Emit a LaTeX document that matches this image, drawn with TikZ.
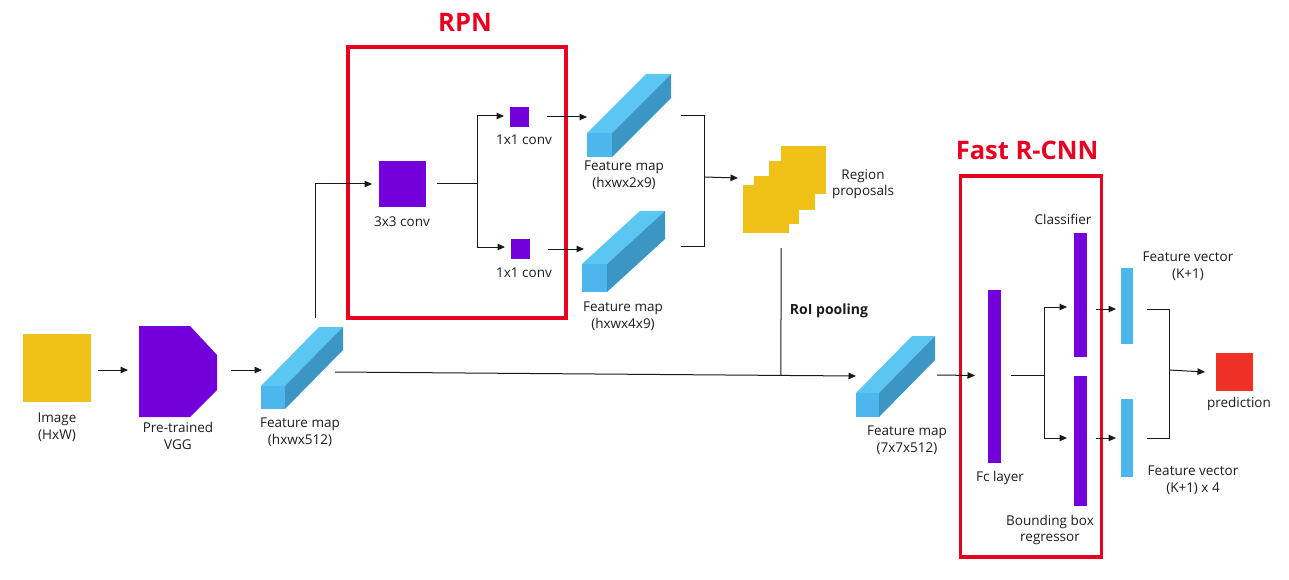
\documentclass[tikz,border=0pt]{standalone}
\usepackage{fontspec}
\setmainfont{Open Sans}
\usetikzlibrary{arrows.meta,calc}
\definecolor{yel}{RGB}{240,193,23}
\definecolor{pur}{RGB}{115,0,218}
\definecolor{bfront}{RGB}{77,182,236}
\definecolor{btop}{RGB}{92,198,242}
\definecolor{bside}{RGB}{60,150,196}
\definecolor{boxred}{RGB}{232,0,32}
\definecolor{predred}{RGB}{238,49,36}
\definecolor{wirecol}{RGB}{25,25,25}
\definecolor{txt}{RGB}{28,28,28}
\newcommand\fmapbox[7]{%
  \node[fill=bfront, inner sep=0pt, outer sep=0pt, minimum width=#4pt, minimum height=#5pt, anchor=north west] (#1) at (#2,#3) {};
  \fill[btop] (#1.north west) -- ++(#6,-#7) -- ++(#4,0) -- (#1.north east) -- cycle;
  \fill[bside] (#1.north east) -- ++(#6,-#7) -- ++(0,#5) -- (#1.south east) -- cycle;
}
\begin{document}
\begin{tikzpicture}[x=1pt,y=-1pt,
  wire/.style={draw=wirecol, line width=1pt},
  arr/.style={wire, -{Triangle[length=7.5pt,width=6.5pt]}},
  lbl/.style={font=\fontsize{13.5}{16.5}\selectfont, align=center, inner sep=0pt, text=txt},
  blbl/.style={font=\bfseries\fontsize{14}{16}\selectfont, inner sep=0pt, text=txt},
  title/.style={font=\bfseries\fontsize{25.5}{28}\selectfont, inner sep=0pt, text=boxred},
  blk/.style={inner sep=0pt, outer sep=0pt, anchor=north west},
  redbox/.style={draw=boxred, line width=3.5pt}]
\useasboundingbox (0,0) rectangle (1289,580);

% ---------- left part ----------
\node[blk, fill=yel, minimum width=68pt, minimum height=68pt] (img) at (23,334) {};
\node[lbl] (imgl) at (57,427) {Image\\(HxW)};

\node[blk, minimum width=78pt, minimum height=91pt] (vgg) at (139,326) {};
\fill[pur] (vgg.north west) -- ++(51,0) -- ++(27,29) -- ++(0,35) -- ++(-27,27) -- (vgg.south west) -- cycle;
\node[lbl] (vggl) at (178,436) {Pre-trained\\VGG};

\fmapbox{fm1}{261}{386}{24}{23}{58}{59}
\node[lbl] (fm1l) at (300,432) {Feature map\\(hxwx512)};

\draw[arr] ($(img.east)+(7,2)$) -- ($(vgg.west)+(-11,-1.5)$);
\draw[arr] ($(vgg.east)+(14,-1.5)$) -- ($(fm1.north west)+(1,-16)$);

% ---------- RPN ----------
\draw[redbox] (348,47) rectangle (566,318);
\node[title] (rpnt) at (465,22) {RPN};

\node[blk, fill=pur, minimum width=47pt, minimum height=46pt] (conv3) at (379,161) {};
\node[lbl] (conv3l) at (402,222) {3x3 conv};
\node[blk, fill=pur, minimum width=19pt, minimum height=20pt] (conv1a) at (510,107) {};
\node[lbl] (conv1al) at (524,140) {1x1 conv};
\node[blk, fill=pur, minimum width=19pt, minimum height=20pt] (conv1b) at (511,239) {};
\node[lbl] (conv1bl) at (524,273) {1x1 conv};

\draw[arr] ($(fm1.north west)+(54,-68)$) |- ($(conv3.west)+(-7,0)$);
\coordinate (br) at ($(conv3.east)+(51,0)$);
\draw[wire] ($(conv3.east)+(11,0)$) -- (br);
\draw[arr] (br) |- ($(conv1a.west)+(-6,-1)$);
\draw[arr] (br) |- ($(conv1b.west)+(-6,-2)$);

% ---------- RPN outputs ----------
\fmapbox{fm2}{587}{133}{25}{24}{59}{59}
\node[lbl] (fm2l) at (624,175) {Feature map\\(hxwx2x9)};
\fmapbox{fm3}{582}{264}{25}{28}{58}{53}
\node[lbl] (fm3l) at (623,316) {Feature map\\(hxwx4x9)};

\draw[arr] ($(conv1a.east)+(18,0)$) -- ($(fm2.north west)+(0,-16)$);
\draw[arr] ($(conv1b.east)+(18,0)$) -- ($(fm3.north west)+(2,-15)$);

% region proposals
\node[blk, fill=yel, minimum width=46pt, minimum height=48pt] (rp1) at (743,185) {};
\node[blk, fill=yel, minimum width=45pt, minimum height=48pt] (rp2) at (754,176) {};
\node[blk, fill=yel, minimum width=46pt, minimum height=49pt] (rp3) at (769,161) {};
\node[blk, fill=yel, minimum width=45pt, minimum height=48pt] (rp4) at (781,146) {};
\node[lbl] (rpl) at (863,184) {Region\\proposals};

\draw[wire] ($(fm2.north east)+(69,-17)$) -- ++(23,0) |- ($(fm3.north east)+(74,-18)$);
\draw[arr] ($(fm2.north east)+(92,44)$) -- ($(rp1.north west)+(-5,-7)$);

% ---------- RoI pooling ----------
\fmapbox{fm4}{856}{393}{23}{24}{56}{57}
\node[lbl] (fm4l) at (907,440) {Feature map\\(7x7x512)};
\draw[arr] ($(fm1.north east)+(50,-14)$) -- coordinate[pos=0.856] (roij) ($(fm4.north west)+(0,-17)$);
\draw[wire] ($(rp1.south -| rp4.west)+(0,15)$) -- (roij);
\node[blbl] (roil) at (829,311) {RoI pooling};

% ---------- Fast R-CNN ----------
\draw[redbox] (960.5,176) rectangle (1101.5,557);
\node[title] (frt) at (1027,150) {Fast R-CNN};

\node[blk, fill=pur, minimum width=13pt, minimum height=173pt] (fc) at (988,290) {};
\node[lbl] (fcl) at (1000,478) {Fc layer};
\node[blk, fill=pur, minimum width=13pt, minimum height=124pt] (cls) at (1074,233) {};
\node[lbl] (clsl) at (1063,219) {Classifier};
\node[blk, fill=pur, minimum width=13pt, minimum height=130pt] (bbox) at (1074,376) {};
\node[lbl] (bboxl) at (1050,530) {Bounding box\\regressor};

\draw[arr] ($(fm4.north east)+(58,-18)$) -- ($(fc.west)+(-13,-1)$);
\coordinate (fcb) at ($(fc.east)+(43,-1)$);
\draw[wire] ($(fc.east)+(10,-1)$) -- (fcb);
\draw[arr] (fcb) |- ($(cls.west)+(-7,12)$);
\draw[arr] (fcb) |- ($(bbox.west)+(-7,-3)$);

% ---------- outputs ----------
\node[blk, fill=bfront, minimum width=12pt, minimum height=76pt] (fv1) at (1121,268) {};
\node[lbl] (fv1l) at (1188,266) {Feature vector\\(K+1)};
\node[blk, fill=bfront, minimum width=12pt, minimum height=78pt] (fv2) at (1121,399) {};
\node[lbl] (fv2l) at (1193,480) {Feature vector\\(K+1) x 4};

\draw[arr] ($(cls.east)+(9,14)$) -- ($(fv1.west)+(-5,3)$);
\draw[arr] ($(bbox.east)+(9,-3)$) -- ($(fv2.west)+(-5,0)$);

\node[blk, fill=predred, minimum width=37pt, minimum height=38pt] (pred) at (1216,353) {};
\node[lbl] (predl) at (1239,404) {prediction};

\draw[wire] ($(fv1.east)+(14,3)$) -- ++(22,0) |- ($(fv2.east)+(14,0)$);
\draw[arr] ($(fv1.east)+(36,64)$) -- ($(pred.west)+(-11,0)$);
\end{tikzpicture}
\end{document}
